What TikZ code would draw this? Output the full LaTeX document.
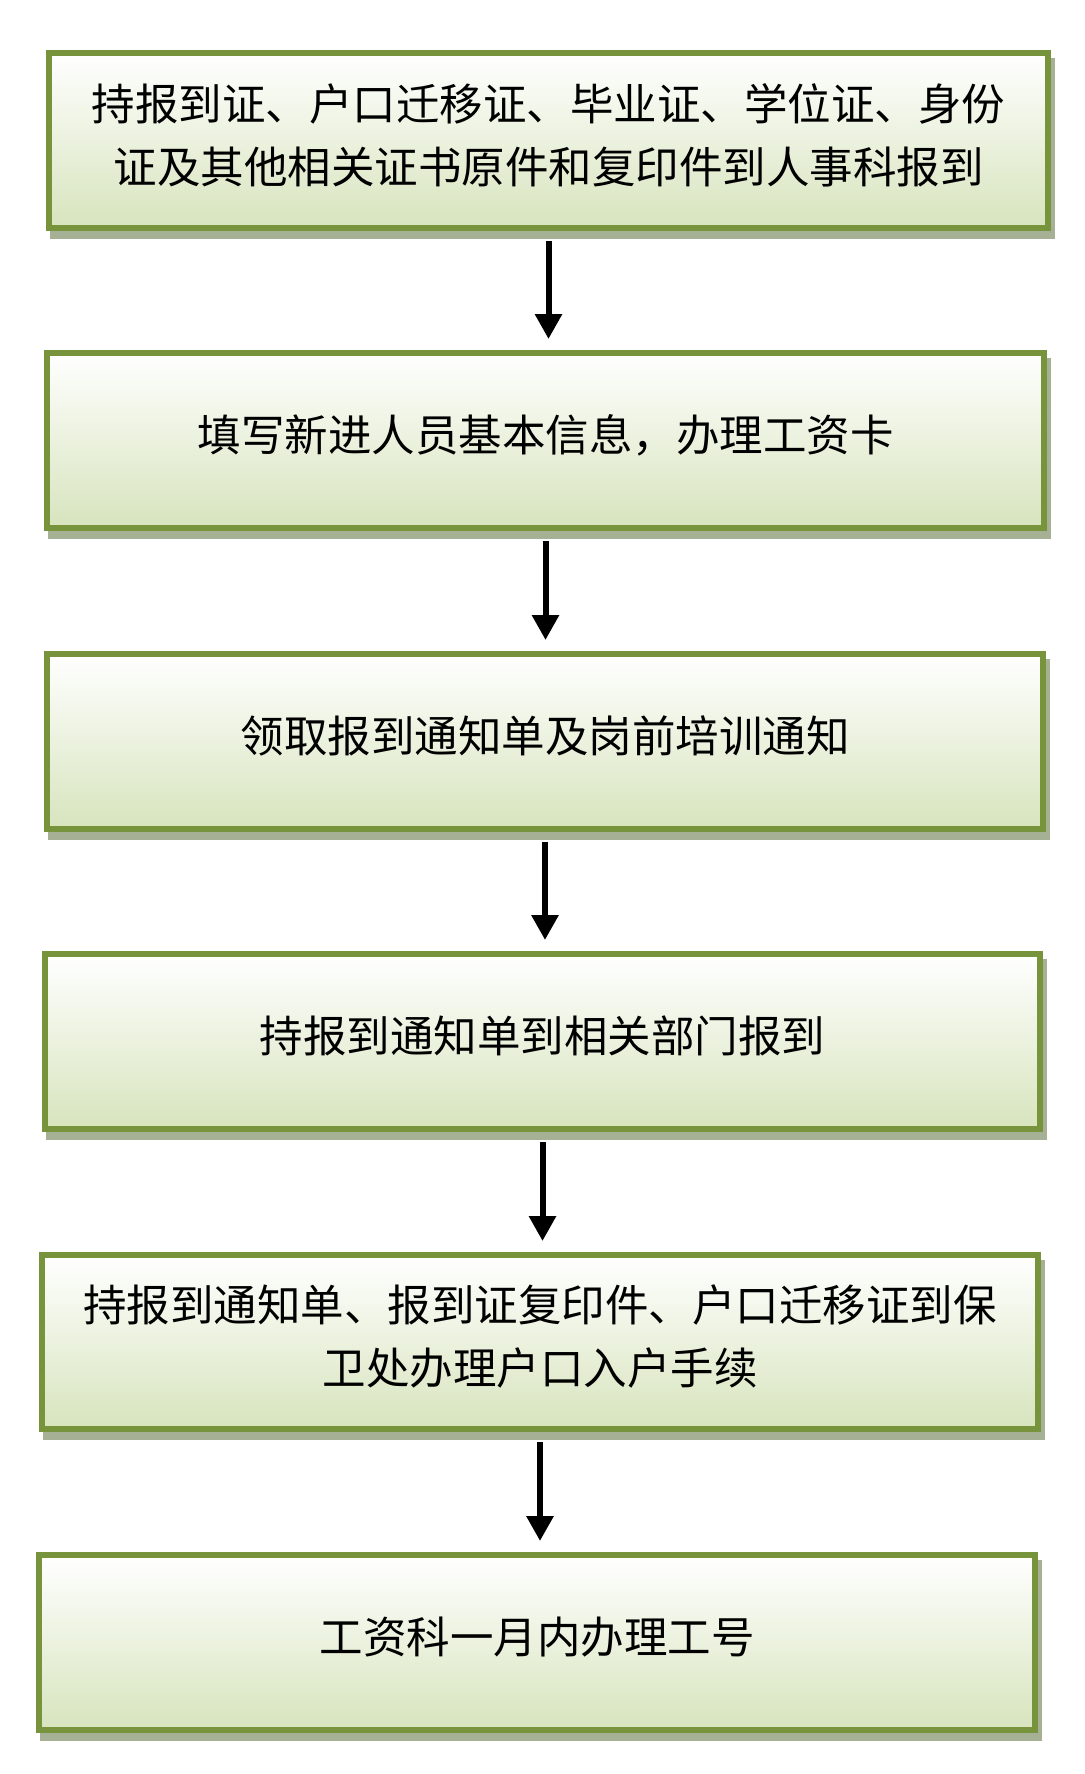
\documentclass[tikz,border=0pt]{standalone}
\usepackage{fontspec}
\setmainfont{Noto Sans CJK SC}
\usetikzlibrary{arrows.meta,backgrounds}
\definecolor{bordc}{RGB}{119,147,60}
\definecolor{fillc}{RGB}{215,228,189}
\definecolor{shadc}{RGB}{166,176,148}
\tikzset{
  stepbox/.style={draw=bordc, line width=6pt, outer sep=3pt, inner sep=0pt,
    top color=white, bottom color=fillc, align=center, text depth=14pt,
    font=\fontsize{43.5}{63}\selectfont},
  arr/.style={line width=6pt, -{Triangle[width=26pt,length=25pt]}},
}
\newcommand{\boxshadow}[1]{\fill[shadc] ([shift={(4,8)}]#1.north west) rectangle ([shift={(4,8)}]#1.south east);}
\begin{document}
\begin{tikzpicture}[x=1pt,y=-1pt]
\useasboundingbox (0,0) rectangle (1084,1774);
\node[stepbox, minimum width=999pt, minimum height=175pt] (b1) at (548.5,140.5)
  {持报到证、户口迁移证、毕业证、学位证、身份\\证及其他相关证书原件和复印件到人事科报到};
\node[stepbox, minimum width=997pt, minimum height=175pt] (b2) at (545.5,440.5)
  {填写新进人员基本信息，办理工资卡};
\node[stepbox, minimum width=996pt, minimum height=175pt] (b3) at (545,741.5)
  {领取报到通知单及岗前培训通知};
\node[stepbox, minimum width=995pt, minimum height=175pt] (b4) at (542.5,1041.5)
  {持报到通知单到相关部门报到};
\node[stepbox, minimum width=996pt, minimum height=174pt] (b5) at (540,1342)
  {持报到通知单、报到证复印件、户口迁移证到保\\卫处办理户口入户手续};
\node[stepbox, minimum width=996pt, minimum height=175pt] (b6) at (537,1642.5)
  {工资科一月内办理工号};
\begin{scope}[on background layer]
  \boxshadow{b1}\boxshadow{b2}\boxshadow{b3}\boxshadow{b4}\boxshadow{b5}\boxshadow{b6}
\end{scope}
\coordinate (t2) at (b1.south |- b2.north);
\coordinate (t3) at (b2.south |- b3.north);
\coordinate (t4) at (b3.south |- b4.north);
\coordinate (t5) at (b4.south |- b5.north);
\coordinate (t6) at (b5.south |- b6.north);
\draw[arr] ([shift={(0,10)}]b1.south) -- ([shift={(0,-11)}]t2);
\draw[arr] ([shift={(0,10)}]b2.south) -- ([shift={(0,-11)}]t3);
\draw[arr] ([shift={(0,10)}]b3.south) -- ([shift={(0,-11)}]t4);
\draw[arr] ([shift={(0,10)}]b4.south) -- ([shift={(0,-11)}]t5);
\draw[arr] ([shift={(0,10)}]b5.south) -- ([shift={(0,-11)}]t6);
\end{tikzpicture}
\end{document}
